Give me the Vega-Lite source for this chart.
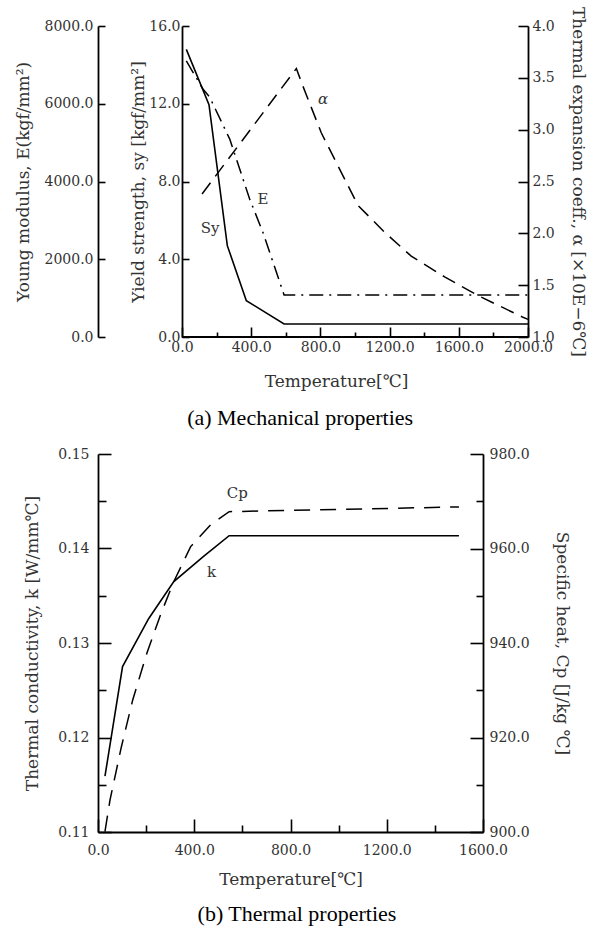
{
  "$schema": "https://vega.github.io/schema/vega-lite/v6.json",
  "padding": {"left": 14, "top": 6, "right": 4, "bottom": 2},
  "config": {
    "view": {"stroke": null},
    "axis": {
      "domainColor": "#000", "domainWidth": 1.8, "tickColor": "#000", "tickWidth": 1.6,
      "labelFont": "DejaVu Serif", "labelFontSize": 14, "labelColor": "#333",
      "titleFont": "DejaVu Serif", "titleFontSize": 17, "titleFontWeight": "normal", "titleColor": "#333",
      "grid": false, "labelFlush": false, "labelOverlap": false
    },
    "title": {"font": "Liberation Serif", "fontSize": 22, "fontWeight": "normal", "color": "#000"}
  },
  "vconcat": [
    {
      "width": 430, "height": 311,
      "title": {"text": "(a) Mechanical properties", "orient": "bottom", "anchor": "middle", "frame": "bounds", "offset": 19},
      "encoding": {
        "x": {"field": "T", "type": "quantitative", "scale": {"domain": [-485.5, 2000], "nice": false, "zero": false},
          "axis": {"title": "Temperature[℃]", "domain": false, "values": [0,200,400,600,800,1000,1200,1400,1600,1800,2000],
            "labelExpr": "datum.value % 400 === 0 ? format(datum.value, '.1f') : ''",
            "tickSize": {"condition": {"test": "datum.value % 400 === 0", "value": -10}, "value": -5},
            "labelPadding": 13, "titleX": 238, "titlePadding": 14}}
      },
      "layer": [
        {
          "data": {"values": [
            {"T": 25, "v": 14.8}, {"T": 156, "v": 11.95}, {"T": 262, "v": 4.7},
            {"T": 372, "v": 1.87}, {"T": 590, "v": 0.67}, {"T": 2000, "v": 0.67}
          ]},
          "layer": [
            {"mark": {"type": "line", "stroke": "#000", "strokeWidth": 1.6},
             "encoding": {"y": {"field": "v", "type": "quantitative", "scale": {"domain": [0, 16], "nice": false, "zero": false},
               "axis": {"orient": "left", "offset": -84, "title": "Yield strength, sy [kgf/mm²]", "values": [0,2,4,6,8,10,12,14,16],
                 "labelExpr": "datum.value % 4 === 0 ? format(datum.value, '.1f') : ''",
                 "tickSize": -7, "labelPadding": 9, "titlePadding": 1}}}},
            {"data": {"values": [{"T": 0, "T2": 2000, "v": 0}]},
             "mark": {"type": "rule", "stroke": "#000", "strokeWidth": 1.8},
             "encoding": {"x2": {"field": "T2"}, "y": {"field": "v", "type": "quantitative"}}},
            {"data": {"values": [{"T": 162, "v": 5.6, "label": "Sy"}]},
             "mark": {"type": "text", "font": "DejaVu Serif", "fontSize": 15, "fill": "#333"},
             "encoding": {"y": {"field": "v", "type": "quantitative"}, "text": {"field": "label"}}}
          ]
        },
        {
          "data": {"values": [
            {"T": 25, "v": 7100}, {"T": 121, "v": 6380}, {"T": 160, "v": 6170}, {"T": 276, "v": 5090},
            {"T": 391, "v": 3550}, {"T": 468, "v": 2690}, {"T": 590, "v": 1080}, {"T": 2000, "v": 1080}
          ]},
          "layer": [
            {"mark": {"type": "line", "stroke": "#000", "strokeWidth": 1.5, "strokeDash": [14, 6, 2, 6]},
             "encoding": {"y": {"field": "v", "type": "quantitative", "scale": {"domain": [0, 8000], "nice": false, "zero": false},
               "axis": {"orient": "left", "title": "Young modulus, E(kgf/mm²)", "values": [0,1000,2000,3000,4000,5000,6000,7000,8000],
                 "labelExpr": "datum.value % 2000 === 0 ? format(datum.value, '.1f') : ''",
                 "tickSize": -7, "labelPadding": 12, "titlePadding": 12}}}},
            {"data": {"values": [{"T": 468, "v": 3550, "label": "E"}]},
             "mark": {"type": "text", "font": "DejaVu Serif", "fontSize": 15, "fill": "#333"},
             "encoding": {"y": {"field": "v", "type": "quantitative"}, "text": {"field": "label"}}}
          ]
        },
        {
          "data": {"values": [
            {"T": 116, "v": 2.38}, {"T": 661, "v": 3.59}, {"T": 699, "v": 3.42}, {"T": 805, "v": 2.97},
            {"T": 902, "v": 2.65}, {"T": 1017, "v": 2.27}, {"T": 1171, "v": 2.01}, {"T": 1325, "v": 1.78},
            {"T": 1518, "v": 1.58}, {"T": 1711, "v": 1.40}, {"T": 1971, "v": 1.19}, {"T": 2000, "v": 1.17}
          ]},
          "layer": [
            {"mark": {"type": "line", "stroke": "#000", "strokeWidth": 1.5, "strokeDash": [14, 8]},
             "encoding": {"y": {"field": "v", "type": "quantitative", "scale": {"domain": [1, 4], "nice": false, "zero": false},
               "axis": {"orient": "right", "title": "Thermal expansion coeff., α [×10E−6℃]", "values": [1,1.25,1.5,1.75,2,2.25,2.5,2.75,3,3.25,3.5,3.75,4],
                 "labelExpr": "(datum.value * 2) % 1 === 0 ? format(datum.value, '.1f') : ''",
                 "tickSize": {"condition": {"test": "(datum.value * 2) % 1 === 0", "value": -10}, "value": -7},
                 "labelPadding": 14, "titlePadding": 14}}}},
            {"data": {"values": [{"T": 815, "v": 3.30, "label": "α"}]},
             "mark": {"type": "text", "font": "DejaVu Serif", "fontSize": 15, "fontStyle": "italic", "fill": "#333"},
             "encoding": {"y": {"field": "v", "type": "quantitative"}, "text": {"field": "label"}}}
          ]
        }
      ],
      "resolve": {"scale": {"y": "independent"}}
    },
    {
      "width": 385, "height": 378,
      "title": {"text": "(b) Thermal properties", "orient": "bottom", "anchor": "middle", "frame": "bounds", "offset": 17},
      "encoding": {
        "x": {"field": "T", "type": "quantitative", "scale": {"domain": [0, 1600], "nice": false, "zero": false},
          "axis": {"title": "Temperature[℃]", "values": [0,200,400,600,800,1000,1200,1400,1600],
            "labelExpr": "datum.value % 400 === 0 ? format(datum.value, '.1f') : ''",
            "tickSize": {"condition": {"test": "datum.value % 400 === 0", "value": -13}, "value": -7},
            "labelPadding": 24, "titlePadding": 8}}
      },
      "layer": [
        {
          "data": {"values": [
            {"T": 29, "v": 0.1159}, {"T": 102, "v": 0.1275}, {"T": 211, "v": 0.1326}, {"T": 315, "v": 0.1365},
            {"T": 440, "v": 0.1392}, {"T": 545, "v": 0.14135}, {"T": 1500, "v": 0.14135}
          ]},
          "layer": [
            {"mark": {"type": "line", "stroke": "#000", "strokeWidth": 1.6},
             "encoding": {"y": {"field": "v", "type": "quantitative", "scale": {"domain": [0.11, 0.15], "nice": false, "zero": false},
               "axis": {"orient": "left", "title": "Thermal conductivity, k [W/mm℃]", "values": [0.11,0.115,0.12,0.125,0.13,0.135,0.14,0.145,0.15],
                 "labelExpr": "abs(datum.value * 100 - round(datum.value * 100)) < 0.001 ? format(datum.value, '.2f') : ''",
                 "tickSize": {"condition": {"test": "abs(datum.value * 100 - round(datum.value * 100)) < 0.001", "value": -13}, "value": -8},
                 "labelPadding": 22, "titlePadding": 16}}}},
            {"data": {"values": [{"T": 472, "v": 0.1375, "label": "k"}]},
             "mark": {"type": "text", "font": "DejaVu Serif", "fontSize": 15, "fill": "#333"},
             "encoding": {"y": {"field": "v", "type": "quantitative"}, "text": {"field": "label"}}}
          ]
        },
        {
          "data": {"values": [
            {"T": 29, "v": 900.1}, {"T": 50, "v": 906.8}, {"T": 97, "v": 918}, {"T": 144, "v": 927.9},
            {"T": 204, "v": 938}, {"T": 260, "v": 946}, {"T": 315, "v": 953}, {"T": 385, "v": 960.4},
            {"T": 468, "v": 965}, {"T": 545, "v": 967.8}, {"T": 1500, "v": 968.8}
          ]},
          "layer": [
            {"mark": {"type": "line", "stroke": "#000", "strokeWidth": 1.5, "strokeDash": [16, 10]},
             "encoding": {"y": {"field": "v", "type": "quantitative", "scale": {"domain": [900, 980], "nice": false, "zero": false},
               "axis": {"orient": "right", "title": "Specific heat, Cp [J/kg ℃]", "values": [900,910,920,930,940,950,960,970,980],
                 "labelExpr": "datum.value % 20 === 0 ? format(datum.value, '.1f') : ''",
                 "tickSize": {"condition": {"test": "datum.value % 20 === 0", "value": -13}, "value": -7},
                 "labelPadding": 19, "titlePadding": 23}}}},
            {"data": {"values": [{"T": 579, "v": 971.7, "label": "Cp"}]},
             "mark": {"type": "text", "font": "DejaVu Serif", "fontSize": 15, "fill": "#333"},
             "encoding": {"y": {"field": "v", "type": "quantitative"}, "text": {"field": "label"}}}
          ]
        }
      ],
      "resolve": {"scale": {"y": "independent"}}
    }
  ],
  "spacing": 18
}
